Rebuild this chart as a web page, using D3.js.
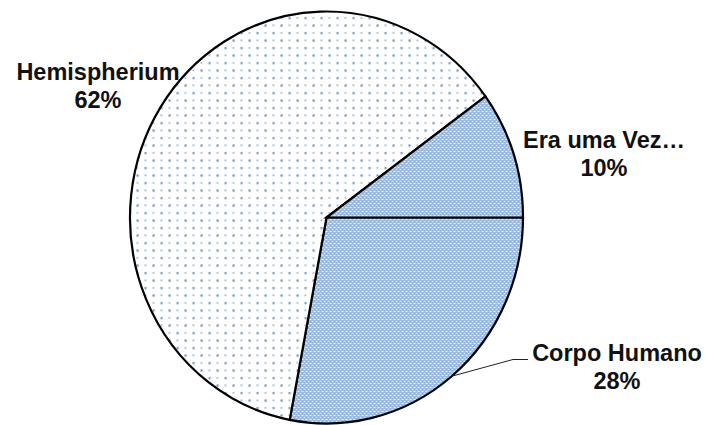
<!DOCTYPE html>
<html>
<head>
<meta charset="utf-8">
<script src="https://cdn.jsdelivr.net/npm/d3@7"></script>
<style>
  html, body { margin: 0; padding: 0; background: #ffffff; }
  svg { display: block; }
  text { font-family: "Liberation Sans", Arial, sans-serif; font-weight: bold; fill: #111; }
</style>
</head>
<body>
<svg id="chart" width="711" height="425"></svg>
<script>
// ---- data ----
const categories = ["Corpo Humano", "Hemispherium", "Era uma Vez..."];
const displayNames = ["Corpo Humano", "Hemispherium", "Era uma Vez…"];
const values = [28, 62, 10];
const percentLabels = ["28%", "62%", "10%"];
const patterns = ["hatch", "dots", "hatch"];

// ---- layout ----
const W = 711, H = 425;
const cx = 326.5, cy = 217.5, rx = 196.5, ry = 206;
const fontSize = 23.5;
// label anchor (centre x, baseline of first line) per slice
const labelPos = [
  { x: 617, y: 361 },
  { x: 98,  y: 80 },
  { x: 604, y: 148 }
];
const lineGap = 28;

const svg = d3.select("#chart");
const defs = svg.append("defs");
const sy = ry / rx;

// dotted pattern
const pd = defs.append("pattern")
  .attr("id", "dots").attr("patternUnits", "userSpaceOnUse")
  .attr("width", 16).attr("height", 15)
  .attr("patternTransform", `scale(1, ${1 / sy})`);
pd.append("rect").attr("width", 16).attr("height", 15).attr("fill", "#ffffff");
[[2, 2, "#5f92c8", 2.2], [10, 2, "#94b8de", 1.8], [2, 9.5, "#9fc0e2", 1.8], [10, 9.5, "#6c9bcd", 2.2]]
  .forEach(([x, y, c, s]) => pd.append("rect").attr("x", x).attr("y", y)
    .attr("width", s).attr("height", s).attr("fill", c));

// crosshatch pattern
const ph = defs.append("pattern")
  .attr("id", "hatch").attr("patternUnits", "userSpaceOnUse")
  .attr("width", 4).attr("height", 4)
  .attr("patternTransform", `scale(1, ${1 / sy})`);
ph.append("rect").attr("width", 4).attr("height", 4).attr("fill", "#eef4fb");
ph.append("path").attr("d", "M0,0 L4,4 M4,0 L0,4 M-1,3 L1,5 M3,-1 L5,1 M-1,1 L1,-1 M3,5 L5,3")
  .attr("stroke", "#7aa4d3").attr("stroke-width", 1).attr("fill", "none");

const pie = d3.pie().value(d => d).sort(null)
  .startAngle(Math.PI / 2).endAngle(Math.PI / 2 + 2 * Math.PI);
const arcs = pie(values);
const arc = d3.arc().innerRadius(0).outerRadius(rx);

const g = svg.append("g").attr("transform", `translate(${cx},${cy}) scale(1,${sy})`);
g.selectAll("path.slice").data(arcs).enter().append("path")
  .attr("class", "slice")
  .attr("d", arc)
  .attr("fill", (d, i) => `url(#${patterns[i]})`)
  .attr("stroke", "#000")
  .attr("stroke-width", 2.2)
  .attr("stroke-linejoin", "miter")
  .attr("vector-effect", "non-scaling-stroke");

// leader line for Corpo Humano (from mid-angle on the rim)
const a0 = (arcs[0].startAngle + arcs[0].endAngle) / 2;
const px = cx + Math.sin(a0) * rx, py = cy - Math.cos(a0) * ry;
svg.append("path")
  .attr("d", `M${px},${py} L${labelPos[0].x - 104},${labelPos[0].y - 1.5} L${labelPos[0].x - 89},${labelPos[0].y - 1.5}`)
  .attr("fill", "none").attr("stroke", "#222").attr("stroke-width", 1);

// labels
const lab = svg.selectAll("text.lab").data(arcs).enter().append("text")
  .attr("class", "lab")
  .attr("text-anchor", "middle")
  .attr("font-size", fontSize);
lab.append("tspan").attr("x", (d, i) => labelPos[i].x).attr("y", (d, i) => labelPos[i].y)
  .text((d, i) => displayNames[i]);
lab.append("tspan").attr("x", (d, i) => labelPos[i].x).attr("y", (d, i) => labelPos[i].y + lineGap)
  .text((d, i) => percentLabels[i]);
</script>
</body>
</html>
